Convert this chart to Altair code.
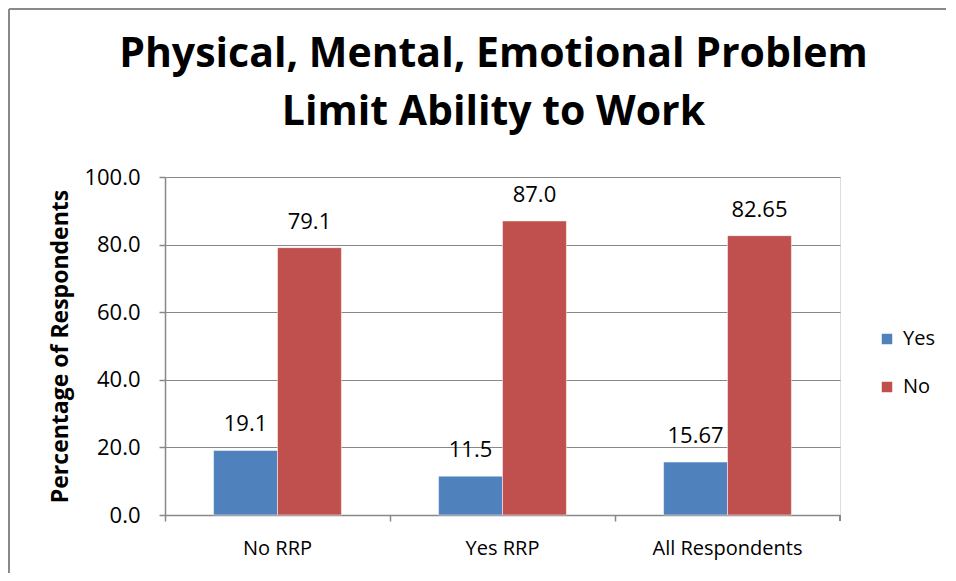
import altair as alt
import pandas as pd

categories = ["No RRP", "Yes RRP", "All Respondents"]
series = ["Yes", "No"]
yes_values = [19.1, 11.5, 15.67]
no_values = [79.1, 87.0, 82.65]
yes_labels = ["19.1", "11.5", "15.67"]
no_labels = ["79.1", "87.0", "82.65"]
colors = ["#4F81BD", "#C0504D"]

rows = []
for c, v, l in zip(categories, yes_values, yes_labels):
    rows.append({"cat": c, "series": "Yes", "value": v, "label": l})
for c, v, l in zip(categories, no_values, no_labels):
    rows.append({"cat": c, "series": "No", "value": v, "label": l})
df = pd.DataFrame(rows)

FONT = "Open Sans"
W, H = 675, 338
GRAY = "#888888"

x_enc = alt.X("cat:N", sort=categories, title=None,
              scale=alt.Scale(paddingInner=0, paddingOuter=0),
              axis=alt.Axis(bandPosition=0, labelAngle=0, labelFontSize=20, labelFont=FONT,
                            labelColor="black", labelPadding=17, tickSize=6, tickColor=GRAY,
                            domainColor=GRAY, domainWidth=1.5, tickWidth=1.5, grid=False))
xoff = alt.XOffset("series:N", sort=series,
                   scale=alt.Scale(paddingInner=0, paddingOuter=0.76))

bars = alt.Chart(df).mark_bar(stroke="white", strokeWidth=0.5).encode(
    x=x_enc,
    xOffset=xoff,
    y=alt.Y("value:Q", title="Percentage of Respondents",
            scale=alt.Scale(domain=[0, 100]),
            axis=alt.Axis(values=[0, 20, 40, 60, 80, 100], format=".1f",
                          labelFontSize=22, labelFont=FONT, labelColor="black",
                          labelPadding=19, tickSize=6, tickColor=GRAY, tickWidth=1.5,
                          domainColor=GRAY, domainWidth=1.5,
                          gridColor=GRAY, gridWidth=1.2,
                          titleFontSize=23, titleFont=FONT, titleFontWeight="bold",
                          titleColor="black", titlePadding=11)),
    color=alt.Color("series:N", sort=series,
                    scale=alt.Scale(domain=series, range=colors),
                    legend=alt.Legend(title=None, orient="none", legendX=712, legendY=152,
                                      symbolType="square", symbolSize=110,
                                      symbolStrokeWidth=0, labelFontSize=20,
                                      labelFont=FONT, labelColor="black",
                                      rowPadding=28, labelOffset=6)),
)

labels = alt.Chart(df).mark_text(baseline="alphabetic", dy=-19, fontSize=22, font=FONT,
                                 color="black").encode(
    x=alt.X("cat:N", sort=categories),
    xOffset=alt.XOffset("series:N", sort=series),
    y="value:Q",
    text="label:N",
)

end_tick = alt.Chart(df).mark_rule(color=GRAY, strokeWidth=1.5).encode(
    x=alt.value(W), y=alt.value(H), y2=alt.value(H + 6)
)

border_top = alt.Chart(df).mark_rule(color="#898989", strokeWidth=2).encode(
    x=alt.value(-156), x2=alt.value(790), y=alt.value(-168)
)
border_left = alt.Chart(df).mark_rule(color="#898989", strokeWidth=2).encode(
    x=alt.value(-156), y=alt.value(-168), y2=alt.value(396)
)

chart = alt.layer(border_top, border_left, bars, labels, end_tick).properties(
    width=W, height=H,
    title=alt.TitleParams(
        ["Physical, Mental, Emotional Problem", "Limit Ability to Work"],
        fontSize=41, font=FONT, fontWeight="bold", color="black",
        anchor="middle", frame="group", dx=-9, lineHeight=58, offset=-126,
    ),
    autosize=alt.AutoSizeParams(type="none"),
    padding={"left": 157, "top": 169, "right": 106, "bottom": 58},
).configure_view(stroke=None).configure(background="white")

chart.save("out.html", embed_options={"renderer": "svg", "actions": False})
